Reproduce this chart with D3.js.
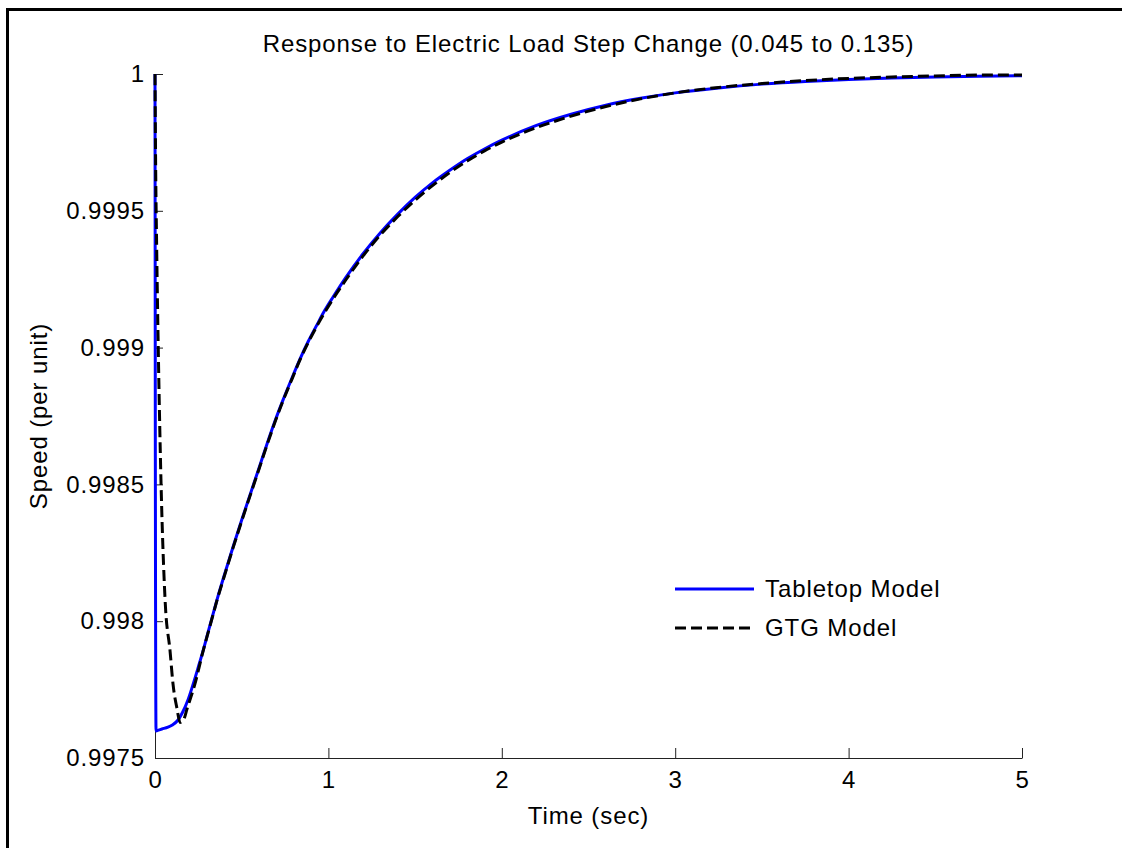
<!DOCTYPE html>
<html>
<head>
<meta charset="utf-8">
<script src="https://cdn.jsdelivr.net/npm/d3@7"></script>
<style>
  html, body { margin: 0; padding: 0; background: #fff; }
  svg { display: block; }
  text { font-family: "Liberation Sans", Arial, Helvetica, sans-serif; fill: #000; letter-spacing: 0.9px; }
</style>
</head>
<body>
<svg id="chart" width="1122" height="848"></svg>
<script>
// ---- data ----
const titleText = "Response to Electric Load Step Change (0.045 to 0.135)";
const xLabel = "Time (sec)";
const yLabel = "Speed (per unit)";
const seriesNames = ["Tabletop Model", "GTG Model"];
const xTicks = [0, 1, 2, 3, 4, 5];
const yTicks = [0.9975, 0.998, 0.9985, 0.999, 0.9995, 1];
const yTickLabels = ["0.9975", "0.998", "0.9985", "0.999", "0.9995", "1"];

const tabletopTime = [0, 0.002, 0.006, 0.02, 0.04, 0.075, 0.1, 0.133, 0.16, 0.19, 0.22, 0.25, 0.28, 0.305, 0.33, 0.357, 0.4, 0.45, 0.5, 0.548, 0.6, 0.646, 0.69, 0.738, 0.79, 0.836, 0.885, 0.934, 0.98, 1.027, 1.1, 1.2, 1.3, 1.4, 1.5, 1.6, 1.7, 1.8, 1.9, 2.0, 2.2, 2.4, 2.6, 2.8, 3.0, 3.25, 3.5, 3.75, 4.0, 4.25, 4.5, 4.75, 5.0];
const tabletopSpeed = [1.0, 0.9986, 0.997599, 0.997602, 0.997606, 0.997613, 0.997621, 0.997639, 0.997668, 0.997712, 0.997770, 0.997833, 0.997898, 0.997957, 0.998015, 0.998077, 0.998169, 0.998271, 0.998370, 0.998461, 0.998560, 0.998648, 0.998728, 0.998808, 0.998889, 0.998958, 0.999024, 0.999083, 0.999137, 0.999185, 0.999256, 0.999343, 0.999420, 0.999488, 0.999549, 0.999602, 0.999648, 0.999690, 0.999726, 0.999758, 0.999812, 0.999853, 0.999886, 0.999911, 0.999931, 0.999949, 0.999963, 0.999973, 0.999980, 0.999985, 0.999989, 0.999992, 0.999994];

const gtgTime = [0, 0.003, 0.01, 0.019, 0.035, 0.058, 0.087, 0.104, 0.127, 0.144, 0.165, 0.185, 0.23, 0.277, 0.329, 0.357, 0.4, 0.45, 0.5, 0.548, 0.6, 0.646, 0.69, 0.738, 0.79, 0.836, 0.885, 0.934, 0.98, 1.027, 1.1, 1.2, 1.3, 1.4, 1.5, 1.6, 1.7, 1.8, 1.9, 2.0, 2.2, 2.4, 2.6, 2.8, 3.0, 3.25, 3.5, 3.75, 4.0, 4.25, 4.5, 4.75, 5.0];
const gtgSpeed = [1.0, 0.99972, 0.99935, 0.99899, 0.99850, 0.99808, 0.99789, 0.99777, 0.99768, 0.99763, 0.99764, 0.99768, 0.99777, 0.99789, 0.998010, 0.998075, 0.998165, 0.998268, 0.998366, 0.998458, 0.998556, 0.998644, 0.998724, 0.998805, 0.998885, 0.998955, 0.999020, 0.999079, 0.999130, 0.999178, 0.999247, 0.999335, 0.999412, 0.999479, 0.999539, 0.999592, 0.999640, 0.999682, 0.999719, 0.999751, 0.999804, 0.999846, 0.999881, 0.999909, 0.999931, 0.999951, 0.999965, 0.999976, 0.999984, 0.999989, 0.999993, 0.999996, 0.999996];

// ---- layout ----
const svg = d3.select("#chart");
const plotLeft = 155, plotRight = 1022, plotTop = 74, plotBottom = 758;
const fontSize = 24;

const x = d3.scaleLinear().domain([0, 5]).range([plotLeft, plotRight]);
const y = d3.scaleLinear().domain([0.9975, 1]).range([plotBottom, plotTop]);

// outer frame (only left and top visible)
svg.append("rect")
  .attr("x", 7.5).attr("y", 9.5)
  .attr("width", 1200).attr("height", 900)
  .attr("fill", "none").attr("stroke", "#000").attr("stroke-width", 3);

// title
svg.append("text")
  .attr("x", (plotLeft + plotRight) / 2).attr("y", 52)
  .attr("text-anchor", "middle")
  .style("font-size", fontSize + "px")
  .text(titleText);

// axes
const xAxis = d3.axisBottom(x).tickValues(xTicks).tickSizeInner(-10).tickSizeOuter(0).tickPadding(13).tickFormat(d3.format("d"));
const gx = svg.append("g").attr("transform", `translate(0,${plotBottom})`).call(xAxis);
gx.select(".domain").attr("stroke", "#222");
gx.selectAll(".tick line").attr("stroke", "#222");
gx.selectAll(".tick text").style("font-size", fontSize + "px").attr("fill", "#000").attr("font-family", null);

const yAxis = d3.axisLeft(y).tickValues(yTicks).tickSizeInner(-8).tickSizeOuter(0).tickPadding(10)
  .tickFormat((d, i) => yTickLabels[i]);
const gy = svg.append("g").attr("transform", `translate(${plotLeft},0)`).call(yAxis);
gy.select(".domain").attr("stroke", "#222");
gy.selectAll(".tick line").attr("stroke", "#222");
gy.selectAll(".tick text").style("font-size", fontSize + "px").attr("fill", "#000").attr("font-family", null);

// axis labels
svg.append("text")
  .attr("x", (plotLeft + plotRight) / 2).attr("y", 824)
  .attr("text-anchor", "middle")
  .style("font-size", fontSize + "px")
  .text(xLabel);

svg.append("text")
  .attr("transform", `translate(47,${(plotTop + plotBottom) / 2}) rotate(-90)`)
  .attr("text-anchor", "middle")
  .style("font-size", fontSize + "px")
  .text(yLabel);

// lines
const line = d3.line().x(d => x(d[0])).y(d => y(d[1])).curve(d3.curveMonotoneX);
const tabletop = tabletopTime.map((t, i) => [t, tabletopSpeed[i]]);
const gtg = gtgTime.map((t, i) => [t, gtgSpeed[i]]);

svg.append("path").datum(tabletop)
  .attr("d", line).attr("fill", "none")
  .attr("stroke", "#0000ff").attr("stroke-width", 3).attr("stroke-linejoin", "round");

svg.append("path").datum(gtg)
  .attr("d", line).attr("fill", "none")
  .attr("stroke", "#000").attr("stroke-width", 3).attr("stroke-dasharray", "11,5");

// legend
const legend = svg.append("g");
const legendRows = [
  { name: seriesNames[0], color: "#0000ff", dash: null, yy: 589 },
  { name: seriesNames[1], color: "#000", dash: "11,5", yy: 628 }
];
legendRows.forEach(r => {
  legend.append("line")
    .attr("x1", 675).attr("x2", 754).attr("y1", r.yy).attr("y2", r.yy)
    .attr("stroke", r.color).attr("stroke-width", 3)
    .attr("stroke-dasharray", r.dash);
  legend.append("text")
    .attr("x", 765).attr("y", r.yy).attr("dy", "0.35em")
    .style("font-size", fontSize + "px")
    .text(r.name);
});
</script>
</body>
</html>
